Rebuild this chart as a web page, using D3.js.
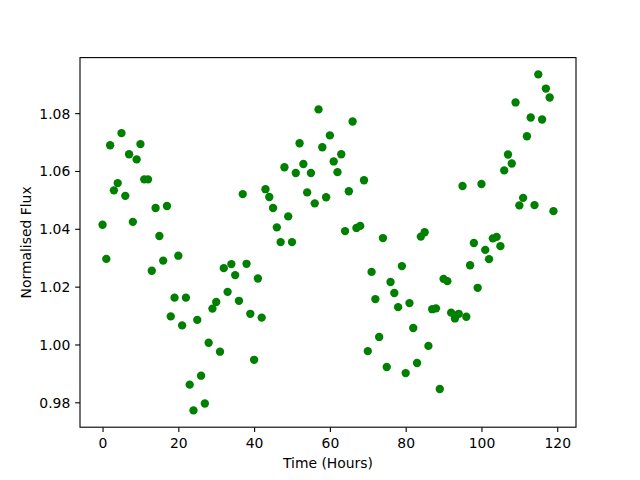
<!DOCTYPE html>
<html>
<head>
<meta charset="utf-8">
<script src="https://cdn.jsdelivr.net/npm/d3@7"></script>
<style>
  html, body { margin: 0; padding: 0; background: #ffffff; }
  svg { display: block; }
  text { font-family: "DejaVu Sans", sans-serif; }
</style>
</head>
<body>
<svg id="chart" width="640" height="480"></svg>
<script>
// Time in hours (one observation per hour)
const hours = d3.range(0, 120);
// Normalised flux values
const flux = [
  1.0414, 1.0296, 1.0689, 1.0533, 1.0558, 1.0731, 1.0514, 1.0658, 1.0424, 1.0640,
  1.0693, 1.0571, 1.0571, 1.0255, 1.0472, 1.0375, 1.0290, 1.0479, 1.0097, 1.0162,
  1.0307, 1.0066, 1.0162, 0.9861, 0.9772, 1.0085, 0.9892, 0.9796, 1.0006, 1.0124,
  1.0147, 0.9975, 1.0264, 1.0182, 1.0278, 1.0240, 1.0151, 1.0520, 1.0279, 1.0106,
  0.9947, 1.0228, 1.0093, 1.0537, 1.0510, 1.0472, 1.0405, 1.0354, 1.0613, 1.0443,
  1.0354, 1.0593, 1.0696, 1.0624, 1.0526, 1.0593, 1.0488, 1.0813, 1.0682, 1.0509,
  1.0723, 1.0633, 1.0596, 1.0658, 1.0392, 1.0530, 1.0771, 1.0403, 1.0410, 1.0568,
  0.9977, 1.0251, 1.0157, 1.0026, 1.0368, 0.9922, 1.0216, 1.0178, 1.0129, 1.0271,
  0.9901, 1.0143, 1.0057, 0.9936, 1.0373, 1.0388, 0.9995, 1.0122, 1.0125, 0.9846,
  1.0227, 1.0219, 1.0110, 1.0090, 1.0106, 1.0548, 1.0096, 1.0274, 1.0351, 1.0196,
  1.0555, 1.0327, 1.0295, 1.0367, 1.0372, 1.0340, 1.0602, 1.0657, 1.0626, 1.0837,
  1.0481, 1.0507, 1.0720, 1.0785, 1.0482, 1.0934, 1.0778, 1.0885, 1.0854, 1.0461
];
const xTicks = [0, 20, 40, 60, 80, 100, 120];
const yTicks = [0.98, 1.00, 1.02, 1.04, 1.06, 1.08];
const xLabel = "Time (Hours)";
const yLabel = "Normalised Flux";

const W = 640, H = 480;
const m = { left: 80, right: 64, top: 57.6, bottom: 52.8 };
const iw = W - m.left - m.right, ih = H - m.top - m.bottom;

function padded(ext) {
  const d = (ext[1] - ext[0]) * 0.05;
  return [ext[0] - d, ext[1] + d];
}

const x = d3.scaleLinear().domain(padded(d3.extent(hours))).range([0, iw]);
const y = d3.scaleLinear().domain(padded(d3.extent(flux))).range([ih, 0]);

const svg = d3.select("#chart");
svg.append("rect").attr("width", W).attr("height", H).attr("fill", "#ffffff");
const g = svg.append("g").attr("transform", `translate(${m.left},${m.top})`);

const pts = hours.map((h, i) => ({ h, f: flux[i] }));
g.append("g").selectAll("circle").data(pts).join("circle")
  .attr("cx", d => x(d.h))
  .attr("cy", d => y(d.f))
  .attr("r", 4.17)
  .attr("fill", "#008000");

const tickLen = 4.86, pad = 4.86, fs = 13.9;

const xAxis = g.append("g").attr("transform", `translate(0,${ih})`)
  .call(d3.axisBottom(x).tickValues(xTicks).tickSize(tickLen).tickPadding(pad).tickFormat(d3.format("d")));
const yAxis = g.append("g")
  .call(d3.axisLeft(y).tickValues(yTicks).tickSize(tickLen).tickPadding(pad).tickFormat(d3.format(".2f")));

[xAxis, yAxis].forEach(a => {
  a.select(".domain").remove();
  a.selectAll(".tick line").attr("stroke", "#000").attr("stroke-width", 1.1);
  a.selectAll(".tick text").attr("fill", "#000").attr("font-size", fs)
    .attr("font-family", "DejaVu Sans, sans-serif");
});
xAxis.selectAll(".tick text").attr("dy", null).attr("y", 21).attr("dominant-baseline", "auto");
yAxis.selectAll(".tick text").attr("dy", null).attr("y", 5);

// frame (spines)
g.append("rect").attr("x", 0).attr("y", 0).attr("width", iw).attr("height", ih)
  .attr("fill", "none").attr("stroke", "#000").attr("stroke-width", 1.1);

svg.append("text")
  .attr("x", m.left + iw / 2).attr("y", 468)
  .attr("text-anchor", "middle").attr("font-size", fs).attr("fill", "#000")
  .text(xLabel);

svg.append("text")
  .attr("transform", `translate(30.7,${m.top + ih / 2}) rotate(-90)`)
  .attr("text-anchor", "middle").attr("font-size", fs).attr("fill", "#000")
  .text(yLabel);
</script>
</body>
</html>
